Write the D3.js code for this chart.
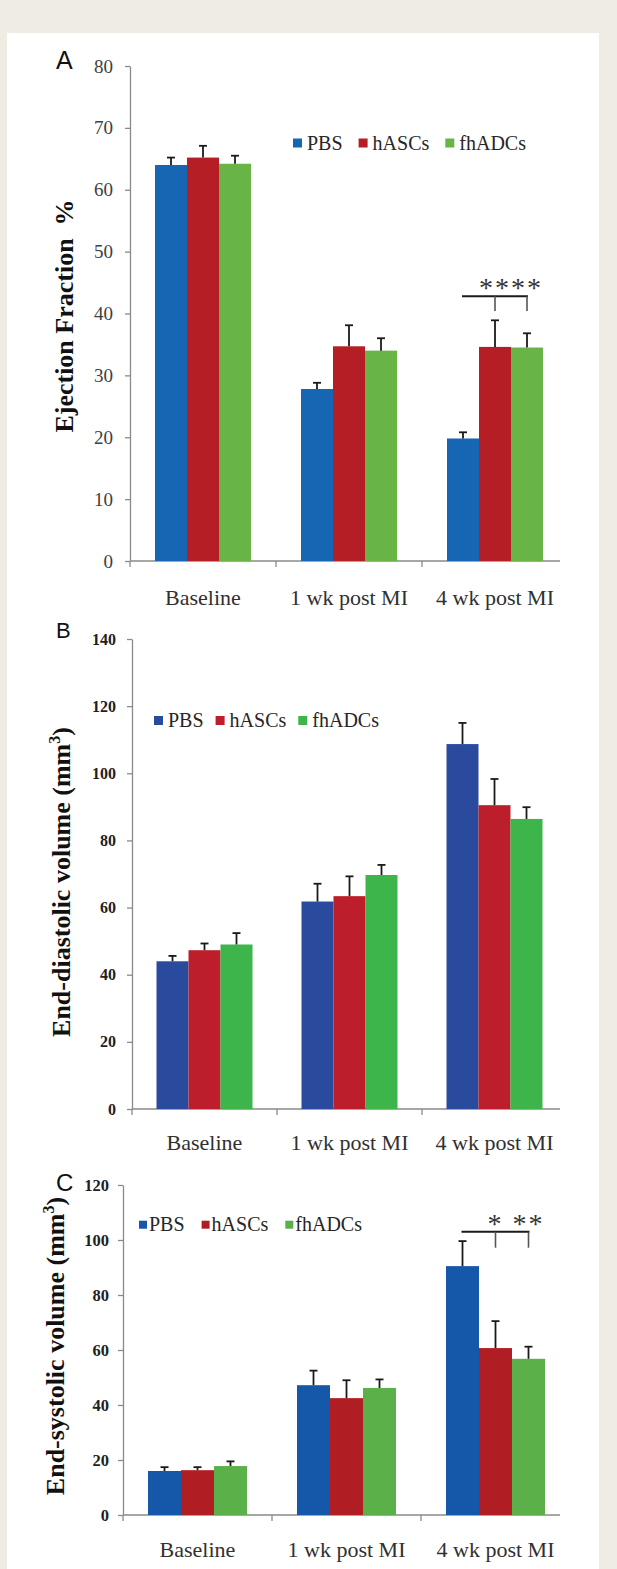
<!DOCTYPE html>
<html>
<head>
<meta charset="utf-8">
<script src="https://cdn.jsdelivr.net/npm/d3@7"></script>
<style>
  body { margin: 0; background: #efece3; }
  svg { display: block; }
</style>
</head>
<body>
<svg id="fig" width="617" height="1569"></svg>
<script>
// --- Data ---
const categories = ["Baseline", "1 wk post MI", "4 wk post MI"];
const series = ["PBS", "hASCs", "fhADCs"];

// Panel A: ejection fraction (%), rows = series, cols = categories
const efMeans = [[64.0, 27.8, 19.8], [65.2, 34.7, 34.6], [64.2, 34.0, 34.5]];
const efErrors = [[1.2, 1.0, 1.0], [1.9, 3.4, 4.3], [1.3, 2.0, 2.3]];
const efTicks = [0, 10, 20, 30, 40, 50, 60, 70, 80];

// Panel B: end-diastolic volume (mm3)
const edvMeans = [[44.0, 61.8, 108.7], [47.3, 63.4, 90.5], [49.0, 69.7, 86.4]];
const edvErrors = [[1.6, 5.3, 6.3], [2.0, 5.9, 7.8], [3.4, 3.0, 3.5]];
const edvTicks = [0, 20, 40, 60, 80, 100, 120, 140];

// Panel C: end-systolic volume (mm3)
const esvMeans = [[16.0, 47.2, 90.5], [16.3, 42.5, 60.7], [17.8, 46.2, 56.8]];
const esvErrors = [[1.4, 5.3, 9.1], [1.1, 6.5, 9.8], [1.7, 3.1, 4.4]];
const esvTicks = [0, 20, 40, 60, 80, 100, 120];

// significance brackets: [from series, to series, line level, drop level]
const efBracket = ["PBS", "fhADCs", 42.8, 40.4];
const efStars = ["**", "**"];
const esvBracket = ["PBS", "fhADCs", 103.0, 97.2];
const esvStars = ["*", "**"];

const SERIF = '"Liberation Serif", "Times New Roman", serif';
const SANS = '"Liberation Sans", Arial, sans-serif';

const svg = d3.select("#fig");

// white page
svg.append("rect")
  .attr("x", 7).attr("y", 33)
  .attr("width", 592).attr("height", 1536)
  .attr("fill", "#ffffff");

function drawPanel(cfg) {
  const g = svg.append("g");

  const y = d3.scaleLinear()
    .domain([0, d3.max(cfg.ticks)])
    .range([cfg.bottom, cfg.top]);

  const x = d3.scaleBand()
    .domain(categories)
    .range([cfg.left, cfg.right]);

  const bw = x.bandwidth();
  const groupW = cfg.barW * series.length;
  const x1 = d3.scaleBand()
    .domain(series)
    .range([(bw - groupW) / 2, (bw + groupW) / 2]);

  const color = d3.scaleOrdinal().domain(series).range(cfg.colors);

  // --- Y axis ---
  const yAxis = g.append("g")
    .attr("transform", `translate(${cfg.left},0)`)
    .call(d3.axisLeft(y)
      .tickValues(cfg.ticks)
      .tickSize(5)
      .tickSizeOuter(0)
      .tickPadding(cfg.tickPad));
  yAxis.select(".domain").attr("stroke", "#8a8a8a").attr("stroke-width", 1.3);
  yAxis.selectAll(".tick line").attr("stroke", "#8a8a8a").attr("stroke-width", 1.3);
  yAxis.selectAll(".tick text")
    .style("font-family", SERIF)
    .style("font-size", cfg.tickFont + "px")
    .style("font-weight", cfg.tickBold ? "bold" : "normal")
    .attr("fill", cfg.tickBold ? "#1e1e1e" : "#404040");

  // --- X axis (line cut short like the original) ---
  g.append("line")
    .attr("x1", cfg.left).attr("x2", cfg.axisEnd)
    .attr("y1", y(0)).attr("y2", y(0))
    .attr("stroke", "#8a8a8a").attr("stroke-width", 1.3);

  g.selectAll(".xtick")
    .data(categories)
    .join("line")
    .attr("class", "xtick")
    .attr("x1", d => x(d)).attr("x2", d => x(d))
    .attr("y1", y(0)).attr("y2", y(0) + 6)
    .attr("stroke", "#8a8a8a").attr("stroke-width", 1.3);

  g.selectAll(".xlabel")
    .data(categories)
    .join("text")
    .attr("class", "xlabel")
    .attr("x", d => x(d) + bw / 2)
    .attr("y", cfg.catY)
    .attr("text-anchor", "middle")
    .style("font-family", SERIF)
    .style("font-size", "22px")
    .attr("fill", "#303030")
    .text(d => d);

  // --- Bars + error bars ---
  const rows = [];
  series.forEach((s, si) => {
    categories.forEach((c, ci) => {
      rows.push({ s, c, v: cfg.means[si][ci], e: cfg.errors[si][ci] });
    });
  });

  g.selectAll(".bar")
    .data(rows)
    .join("rect")
    .attr("class", "bar")
    .attr("x", d => x(d.c) + x1(d.s))
    .attr("y", d => y(d.v))
    .attr("width", x1.bandwidth())
    .attr("height", d => y(0) - y(d.v))
    .attr("fill", d => color(d.s));

  const cx = d => x(d.c) + x1(d.s) + x1.bandwidth() / 2;

  g.selectAll(".err")
    .data(rows)
    .join("line")
    .attr("class", "err")
    .attr("x1", cx).attr("x2", cx)
    .attr("y1", d => y(d.v)).attr("y2", d => y(d.v + d.e))
    .attr("stroke", "#1a1a1a").attr("stroke-width", 1.8);

  g.selectAll(".cap")
    .data(rows)
    .join("line")
    .attr("class", "cap")
    .attr("x1", d => cx(d) - 4).attr("x2", d => cx(d) + 4)
    .attr("y1", d => y(d.v + d.e)).attr("y2", d => y(d.v + d.e))
    .attr("stroke", "#1a1a1a").attr("stroke-width", 1.8);

  // --- Significance bracket ---
  if (cfg.bracket) {
    const [from, to, level, drop] = cfg.bracket;
    const cat = categories[2];
    const sx = s => x(cat) + x1(s) + x1.bandwidth() / 2;
    g.append("line")
      .attr("x1", sx(from) - 1).attr("x2", sx(to) + 1)
      .attr("y1", y(level)).attr("y2", y(level))
      .attr("stroke", "#1a1a1a").attr("stroke-width", 2);
    ["hASCs", "fhADCs"].forEach((s, i) => {
      g.append("line")
        .attr("x1", sx(s)).attr("x2", sx(s))
        .attr("y1", y(level)).attr("y2", y(drop))
        .attr("stroke", "#555").attr("stroke-width", 1.6);
      g.append("text")
        .attr("x", sx(s))
        .attr("y", y(level) + 1)
        .attr("text-anchor", "middle")
        .style("font-family", SERIF)
        .style("font-size", "28px")
        .style("letter-spacing", "2px")
        .attr("fill", "#333")
        .text(cfg.stars[i]);
    });
  }

  // --- Legend ---
  const legend = g.append("g")
    .attr("transform", `translate(${cfg.legendX},${cfg.legendY})`);
  let lx = 0;
  series.forEach(s => {
    legend.append("rect")
      .attr("x", lx).attr("y", -cfg.sq / 2)
      .attr("width", cfg.sq).attr("height", cfg.sq)
      .attr("fill", color(s));
    const t = legend.append("text")
      .attr("x", lx + cfg.sq + cfg.sqGap)
      .attr("y", 6.5)
      .style("font-family", SERIF)
      .style("font-size", "20px")
      .attr("fill", "#262626")
      .text(s);
    lx += cfg.sq + cfg.sqGap + t.node().getComputedTextLength() + cfg.itemGap;
  });

  // --- Y title ---
  const title = g.append("text")
    .attr("transform", "rotate(-90)")
    .attr("x", -cfg.titleY)
    .attr("y", cfg.titleX)
    .attr("text-anchor", "middle")
    .style("font-family", SERIF)
    .style("font-size", "26px")
    .style("font-weight", "bold")
    .style("white-space", "pre")
    .attr("fill", "#111");
  title.append("tspan").text(cfg.title);
  if (cfg.sup) {
    title.append("tspan").style("font-size", "16px").attr("dy", -10).text(cfg.sup);
    title.append("tspan").attr("dy", 10).text(")");
  }

  // --- Panel letter ---
  g.append("text")
    .attr("x", 56)
    .attr("y", cfg.letterY)
    .style("font-family", SANS)
    .style("font-size", cfg.letterSize + "px")
    .attr("fill", "#111")
    .text(cfg.letter);
}

drawPanel({
  letter: "A", letterY: 69, letterSize: 25,
  means: efMeans, errors: efErrors, ticks: efTicks,
  top: 66, bottom: 561, left: 130, right: 568, axisEnd: 560,
  barW: 32, colors: ["#1766b3", "#b51e25", "#69b446"],
  tickFont: 19, tickBold: false, tickPad: 12,
  catY: 605,
  legendX: 293, legendY: 143, sq: 9, sqGap: 5, itemGap: 16,
  title: "Ejection Fraction  %", titleX: 73, titleY: 316,
  bracket: efBracket, stars: efStars
});

drawPanel({
  letter: "B", letterY: 638, letterSize: 22,
  means: edvMeans, errors: edvErrors, ticks: edvTicks,
  top: 639, bottom: 1109, left: 132, right: 567, axisEnd: 560,
  barW: 32, colors: ["#2a4a9e", "#bc1e2b", "#3eb54b"],
  tickFont: 16, tickBold: true, tickPad: 11,
  catY: 1150,
  legendX: 154, legendY: 720.5, sq: 9, sqGap: 5, itemGap: 12,
  title: "End-diastolic volume (mm", sup: "3", titleX: 70, titleY: 882
});

drawPanel({
  letter: "C", letterY: 1191, letterSize: 24,
  means: esvMeans, errors: esvErrors, ticks: esvTicks,
  top: 1185, bottom: 1515, left: 123, right: 570, axisEnd: 560,
  barW: 33, colors: ["#1558a9", "#b01e24", "#5cb04a"],
  tickFont: 16.5, tickBold: true, tickPad: 9,
  catY: 1557,
  legendX: 139, legendY: 1224.7, sq: 8, sqGap: 2, itemGap: 17,
  title: "End-systolic volume (mm", sup: "3", titleX: 64, titleY: 1346,
  bracket: esvBracket, stars: esvStars
});
</script>
</body>
</html>
